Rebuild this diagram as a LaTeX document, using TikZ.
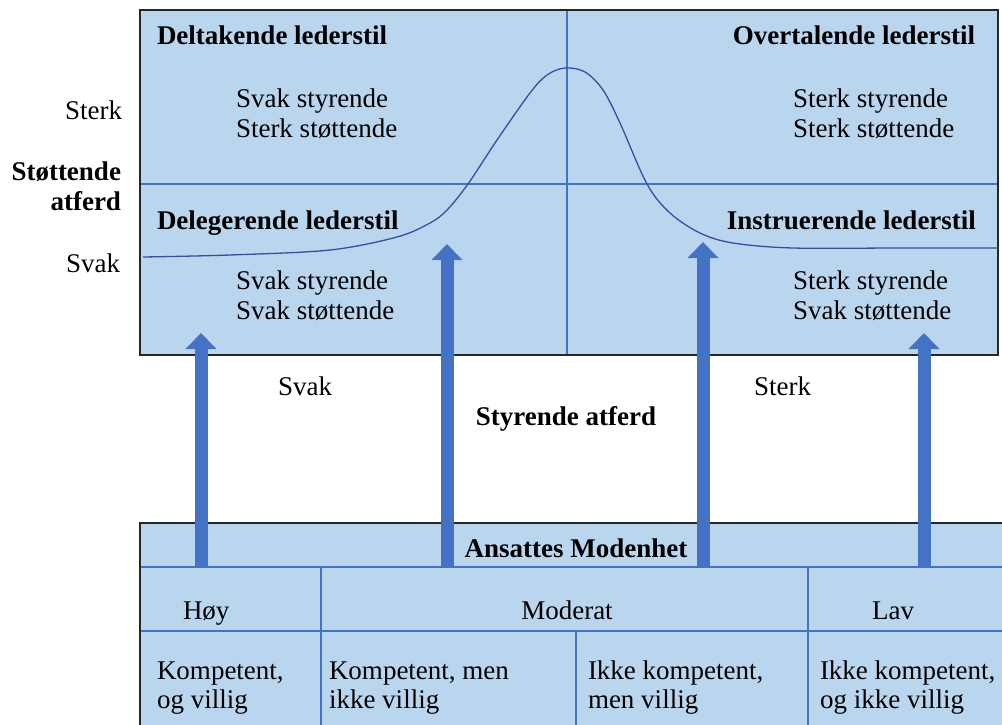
\documentclass[tikz,border=0pt]{standalone}
\usepackage{fontspec}
\setmainfont{Liberation Serif}
\usetikzlibrary{arrows.meta}
\definecolor{boxfill}{RGB}{186,214,239}
\definecolor{lineblue}{RGB}{68,114,196}
\definecolor{arrowblue}{RGB}{68,114,196}
\definecolor{curveblue}{RGB}{50,80,160}
\begin{document}
\begin{tikzpicture}[x=1pt,y=-1pt,
  txt/.style={inner sep=0pt,outer sep=0pt,font=\fontsize{27}{30}\selectfont},
  btxt/.style={txt,font=\fontsize{27}{30}\selectfont\bfseries},
  frame/.style={draw=black!85,line width=1.5pt},
  inner/.style={draw=lineblue,line width=1.3pt},
  uparrow/.style={draw=arrowblue,line width=13pt,-{Triangle[width=30pt,length=16pt]}}
]
\useasboundingbox (0,0) rectangle (1002,725);
% top box
\fill[boxfill] (140,10) rectangle (998,355);
\draw[inner] (567,10) -- (567,355);
\draw[inner] (140,184) -- (998,184);
\draw[frame] (140,10) rectangle (998,355);
% curve
\draw[curveblue,line width=1.3pt] plot[smooth,tension=0.55] coordinates {
 (143,257) (230,255) (330,250) (397,237) (430,223) (447,210) (468,184)
 (497,140) (530,93) (547,75) (565,68) (585,72) (603,90) (620,123)
 (647,184) (670,213) (700,233) (733,243) (793,248) (900,248) (998,248)};
% bottom box
\fill[boxfill] (140,523) rectangle (1010,730);
\draw[inner] (140,567) -- (1010,567);
\draw[inner] (140,631) -- (1010,631);
\draw[inner] (321,567) -- (321,730);
\draw[inner] (808,567) -- (808,730);
\draw[inner] (576,631) -- (576,730);
\draw[frame] (140,730) -- (140,523) -- (1010,523);
\begin{scope}[yshift=-2pt]
% top box texts
\node[btxt,anchor=base west] (t1) at (157,43) {Deltakende lederstil};
\node[btxt,anchor=base east] (t2) at (975,43) {Overtalende lederstil};
\node[btxt,anchor=base west] (t3) at (157,227) {Delegerende lederstil};
\node[btxt,anchor=base east] (t4) at (976,227) {Instruerende lederstil};
\node[txt,anchor=base west] (q1a) at (236,105) {Svak styrende};
\node[txt,anchor=base west] (q1b) at (236,135) {Sterk støttende};
\node[txt,anchor=base west] (q2a) at (793,105) {Sterk styrende};
\node[txt,anchor=base west] (q2b) at (793,135) {Sterk støttende};
\node[txt,anchor=base west] (q3a) at (236,287) {Svak styrende};
\node[txt,anchor=base west] (q3b) at (236,317) {Svak støttende};
\node[txt,anchor=base west] (q4a) at (793,287) {Sterk styrende};
\node[txt,anchor=base west] (q4b) at (793,317) {Svak støttende};
% left axis labels
\node[txt,anchor=base east] (ls) at (122,117) {Sterk};
\node[btxt,anchor=base east] (la1) at (121,178) {Støttende};
\node[btxt,anchor=base east] (la2) at (121,208) {atferd};
\node[txt,anchor=base east] (lw) at (120,270) {Svak};
% horizontal axis labels
\node[txt,anchor=base west] (hw) at (278,393) {Svak};
\node[txt,anchor=base west] (hs) at (754,393) {Sterk};
\node[btxt,anchor=base] (ha) at (566,423) {Styrende atferd};
% bottom table texts
\node[btxt,anchor=base] (mh) at (576,555) {Ansattes Modenhet};
\node[txt,anchor=base west] (hoy) at (183,617) {Høy};
\node[txt,anchor=base] (mod) at (567,617) {Moderat};
\node[txt,anchor=base] (lav) at (893,617) {Lav};
\node[txt,anchor=base west] (c1a) at (157,677) {Kompetent,};
\node[txt,anchor=base west] (c1b) at (157,706) {og villig};
\node[txt,anchor=base west] (c2a) at (329,677) {Kompetent, men};
\node[txt,anchor=base west] (c2b) at (329,706) {ikke villig};
\node[txt,anchor=base west] (c3a) at (588,677) {Ikke kompetent,};
\node[txt,anchor=base west] (c3b) at (588,706) {men villig};
\node[txt,anchor=base west] (c4a) at (820,677) {Ikke kompetent,};
\node[txt,anchor=base west] (c4b) at (820,706) {og ikke villig};
\end{scope}
% arrows
\coordinate (s1) at (201,568); \coordinate (e1) at (201,333);
\coordinate (s2) at (447,568); \coordinate (e2) at (447,244);
\coordinate (s3) at (703,568); \coordinate (e3) at (703,242);
\coordinate (s4) at (924,568); \coordinate (e4) at (924,333);
\draw[uparrow] (s1) -- (e1);
\draw[uparrow] (s2) -- (e2);
\draw[uparrow] (s3) -- (e3);
\draw[uparrow] (s4) -- (e4);
\end{tikzpicture}
\end{document}
